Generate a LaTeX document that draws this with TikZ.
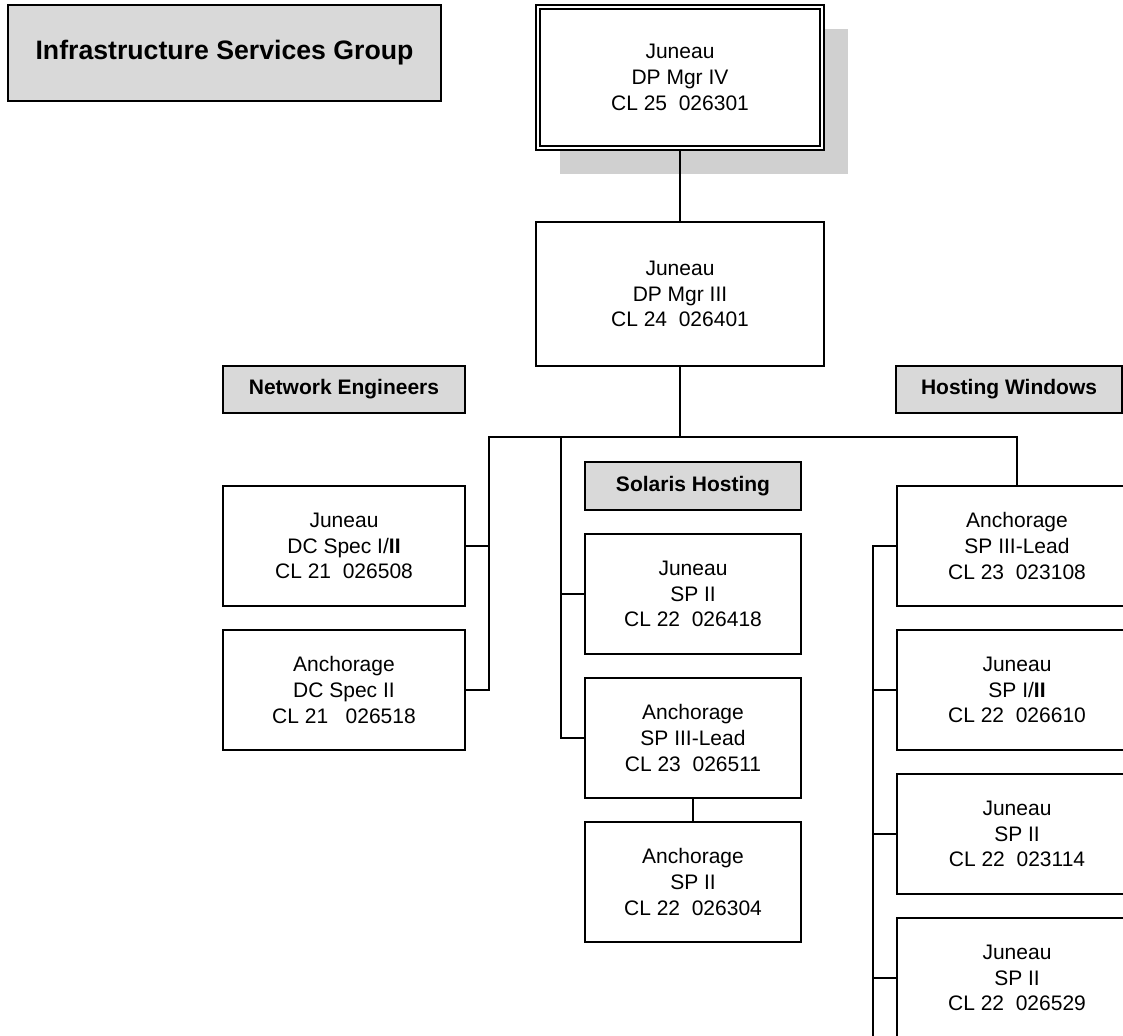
\documentclass[tikz,border=0pt]{standalone}
\usepackage{fontspec}
\setmainfont{Liberation Sans}
\usetikzlibrary{shadows}
\definecolor{headgray}{RGB}{217,217,217}
\definecolor{shadegray}{RGB}{208,208,208}
\tikzset{
  post/.style={draw, line width=1.5pt, fill=white, align=center, inner sep=0pt,
    font=\fontsize{15.75}{19.3}\selectfont},
  postL/.style={post, minimum width=242*.75pt, minimum height=120*.75pt},
  postM/.style={post, minimum width=216*.75pt, minimum height=120*.75pt},
  postR/.style={post, minimum width=240*.75pt, minimum height=120*.75pt},
  chief/.style={post, minimum width=288*.75pt, minimum height=145*.75pt},
  team/.style={draw, line width=1.5pt, fill=headgray, inner sep=0pt,
    font=\bfseries\fontsize{15.75}{19}\selectfont, minimum height=47*.75pt},
  group/.style={team, font=\bfseries\fontsize{20}{24}\selectfont,
    minimum width=433*.75pt, minimum height=96*.75pt}
}
\begin{document}
\begin{tikzpicture}[x=0.75pt, y=-0.75pt, line width=1.5pt]
\useasboundingbox (0,0) rectangle (1123,1035);
\clip (0,0) rectangle (1123,1035);

\node[group] (isg) at (224.5,53) {Infrastructure Services Group};

\node[chief, general shadow={fill=shadegray, shadow xshift=18pt, shadow yshift=-18pt}]
  (mgr4) at (680,77.5) {Juneau\\DP Mgr IV\\CL 25~~026301};
\draw[line width=0.9pt] ([shift={(5,5)}]mgr4.north west) rectangle ([shift={(-5,-5)}]mgr4.south east);
\node[chief, minimum height=144*.75pt] (mgr3) at (680,294)
  {Juneau\\DP Mgr III\\CL 24~~026401};

\node[team, minimum width=242*.75pt] (neteng) at (344,389.5) {Network Engineers};
\node[team, minimum width=216*.75pt, minimum height=48*.75pt] (solaris) at (693,486) {Solaris Hosting};
\node[team, minimum width=226*.75pt] (hostwin) at (1009,389.5) {Hosting Windows};

\node[postL] (dc1) at (344,546) {Juneau\\DC Spec I/\textbf{II}\\CL 21~~026508};
\node[postL] (dc2) at (344,690) {Anchorage\\DC Spec II\\CL 21~~~026518};

\node[postM] (sp1) at (693,594) {Juneau\\SP II\\CL 22~~026418};
\node[postM] (sp2) at (693,738) {Anchorage\\SP III-Lead\\CL 23~~026511};
\node[postM] (sp3) at (693,882) {Anchorage\\SP II\\CL 22~~026304};

\node[postR] (hw1) at (1017,546) {Anchorage\\SP III-Lead\\CL 23~~023108};
\node[postR] (hw2) at (1017,690) {Juneau\\SP I/\textbf{II}\\CL 22~~026610};
\node[postR] (hw3) at (1017,834) {Juneau\\SP II\\CL 22~~023114};
\node[postR] (hw4) at (1017,978) {Juneau\\SP II\\CL 22~~026529};

\coordinate (busL) at (489,437);
\coordinate (busM) at (561,437);
\coordinate (busR) at (1017,437);
\coordinate (spineR) at (873,1045);

\draw (mgr4.south) -- (mgr3.north);
\draw (mgr3.south) -- (mgr3.south |- busL);
\draw (dc2.east) -| (busL) -- (busR) -- (hw1.north);
\draw (dc1.east) -- (dc1.east -| busL);
\draw (busM) |- (sp2.west);
\draw (sp1.west) -- (sp1.west -| busM);
\draw (sp2.south) -- (sp3.north);
\draw (hw1.west) -| (spineR);
\foreach \n in {hw2,hw3,hw4}
  \draw (\n.west) -- (\n.west -| spineR);
\end{tikzpicture}
\end{document}
